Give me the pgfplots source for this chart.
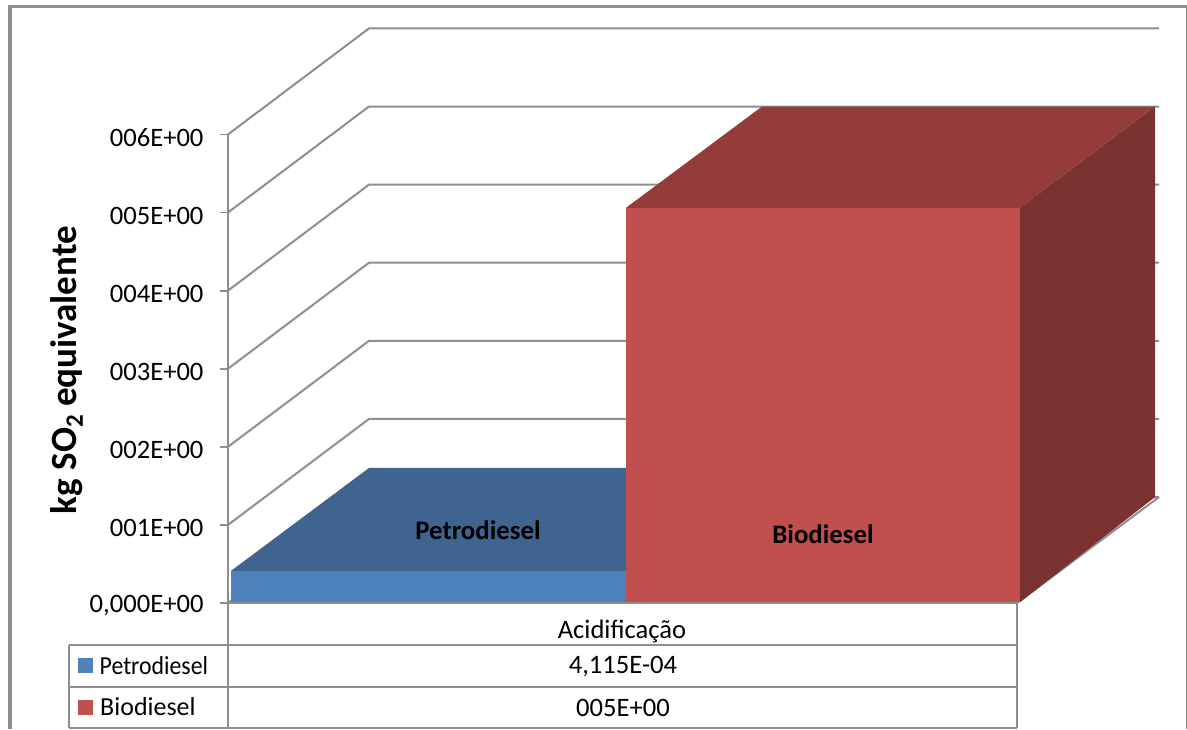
\documentclass[border=0pt]{standalone}
\usepackage{fontspec}
\setmainfont{Carlito}
\usepackage{pgfplots}
\pgfplotsset{compat=1.18}
\definecolor{gridgray}{HTML}{8E8E8E}
\definecolor{blueface}{HTML}{4F81BD}
\definecolor{bluetop}{HTML}{3F6490}
\definecolor{redface}{HTML}{C0504D}
\definecolor{redtop}{HTML}{933C3A}
\definecolor{redside}{HTML}{7A3230}
\newcommand{\lblsize}{\fontsize{26.6}{30}\selectfont}
\begin{document}
\begin{tikzpicture}[x=1pt,y=1pt]
\path[use as bounding box] (0,0) rectangle (1187,729);
% outer chart frame, open at the bottom edge
\draw[gridgray,line width=3.5pt] (10,0) -- (10,722.5) -- (1186.5,722.5);
\draw[gridgray,line width=1.2pt] (1186.5,722.5) -- (1186.5,0);
\begin{axis}[
  at={(228pt,126pt)}, anchor=south west,
  scale only axis, width=789pt, height=468.6pt,
  xmin=228, xmax=1017, ymin=0, ymax=6,
  clip=false, no markers,
  axis x line=bottom, axis y line=left,
  axis line style={-,gridgray,line width=2pt},
  xtick=\empty,
  ytick={0,1,2,3,4,5,6},
  yticklabels={{0,000E+00},{001E+00},{002E+00},{003E+00},{004E+00},{005E+00},{006E+00}},
  tick style={gridgray,line width=1.8pt},
  major tick length=8pt,
  tick align=outside,
  y tick label style={font=\lblsize,text=black,xshift=-13pt,yshift=-3pt},
  ylabel={\bfseries kg SO\raisebox{-0.35ex}{\fontsize{25}{25}\selectfont 2} equivalente},
  every axis y label/.style={at={(axis description cs:-0.2045,0.497)},rotate=90,anchor=center,font=\fontsize{37}{42}\selectfont},
]
% side-wall and back-wall gridlines
\foreach \k/\b in {0/1.357,1/2.357,2/3.357,3/4.357,4/5.357,5/6.357,6/7.357}{
  \edef\temp{\noexpand\addplot[gridgray,line width=2pt] coordinates {(228,\k) (369,\b) (1159,\b)};}
  \temp
}
% floor edge
\addplot[gridgray,line width=2pt] coordinates {(1017,0) (1159,1.357)};

% Petrodiesel bar
\addplot[fill=bluetop,draw=none] coordinates {(231,0.4115) (369,1.729) (640,1.729) (626,0.4115)} -- cycle;
\addplot[fill=blueface,draw=none] coordinates {(231,0.01) (626,0.01) (626,0.4115) (231,0.4115)} -- cycle;

% Biodiesel bar
\addplot[fill=redtop,draw=none] coordinates {(626,5.06) (762,6.357) (1155,6.357) (1020,5.06)} -- cycle;
\addplot[fill=redside,draw=none] coordinates {(1020,5.06) (1155,6.357) (1155,1.357) (1020,0.01)} -- cycle;
\addplot[fill=redface,draw=none] coordinates {(626,0.01) (1020,0.01) (1020,5.06) (626,5.06)} -- cycle;

% data table underneath the plot
\addplot[gridgray,line width=2pt] coordinates {(228,0) (228,-1.6)};
\addplot[gridgray,line width=2pt] coordinates {(1016.5,0) (1016.5,-1.6)};
\addplot[gridgray,line width=2pt] coordinates {(69,-0.538) (69,-1.6)};
\addplot[gridgray,line width=2pt] coordinates {(69,-0.538) (1016.5,-0.538)};
\addplot[gridgray,line width=2pt] coordinates {(69,-1.075) (1016.5,-1.075)};
\addplot[gridgray,line width=2pt] coordinates {(69,-1.6) (1016.5,-1.6)};
\addplot[fill=blueface,draw=none] coordinates {(78,-0.704) (93,-0.704) (93,-0.896) (78,-0.896)} -- cycle;
\addplot[fill=redface,draw=none] coordinates {(78,-1.242) (93,-1.242) (93,-1.434) (78,-1.434)} -- cycle;

\node[font=\lblsize,anchor=center] at (axis cs:622,-0.37) {Acidificação};
\node[font=\lblsize,anchor=center] at (axis cs:623,-0.82) {4,115E-04};
\node[font=\lblsize,anchor=center] at (axis cs:623,-1.34) {005E+00};
\node[font=\fontsize{26}{28}\selectfont,anchor=west,inner sep=0pt] at (axis cs:99.5,-0.80) {\scalebox{0.915}[1]{Petrodiesel}};
\node[font=\fontsize{26}{28}\selectfont,anchor=west,inner sep=0pt] at (axis cs:100,-1.325) {Biodiesel};

% series names on the bars
\node[font=\fontsize{26.8}{30}\selectfont\bfseries,anchor=center] at (axis cs:478,0.935) {Petrodiesel};
\node[font=\fontsize{26.8}{30}\selectfont\bfseries,anchor=center] at (axis cs:823,0.885) {Biodiesel};
\end{axis}
\end{tikzpicture}
\end{document}
